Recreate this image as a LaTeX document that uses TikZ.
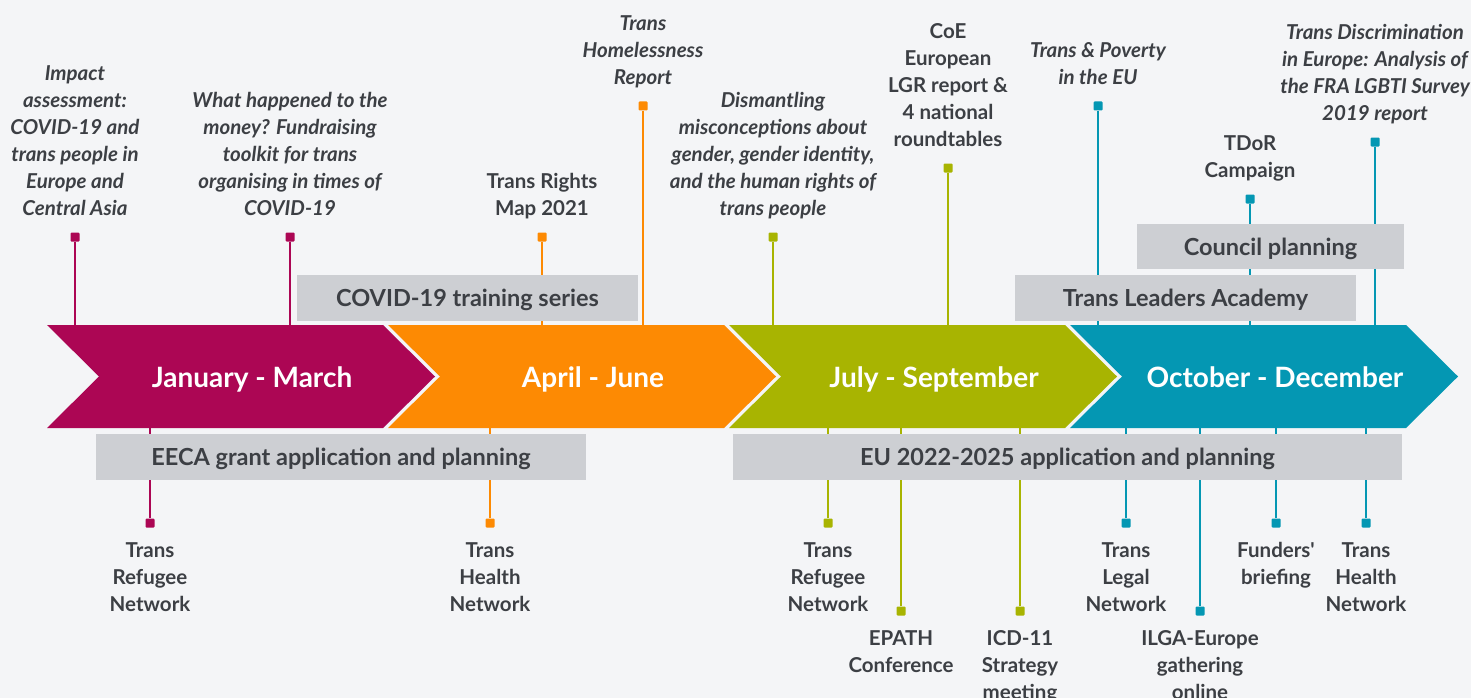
\documentclass[tikz,border=0pt]{standalone}
\usepackage{fontspec}
\setmainfont{Lato}
\usetikzlibrary{positioning}

\definecolor{bgc}{HTML}{F4F5F7}
\definecolor{qone}{HTML}{AC0654}
\definecolor{qtwo}{HTML}{FD8A03}
\definecolor{qthree}{HTML}{A8B401}
\definecolor{qfour}{HTML}{0497B3}
\definecolor{barc}{HTML}{CDCFD3}
\definecolor{txt}{HTML}{3C3F44}

\begin{document}
\begin{tikzpicture}[x=1pt,y=-1pt,
        ev/.style={font=\fontsize{20.5}{27}\selectfont\bfseries, text=txt, align=center, inner sep=0pt,
                execute at begin node=\strut, execute at end node=\strut},
        evi/.style={ev, font=\fontsize{20.5}{27}\selectfont\bfseries\itshape},
        endsq/.style={fill=#1, minimum size=9pt, inner sep=0pt, rounded corners=1pt},
        stem/.style={line width=2.5pt},
        bar/.style={fill=barc, minimum height=46pt, inner sep=0pt, text=txt,
                font=\fontsize{23.5}{28}\selectfont\bfseries, text height=17pt, text depth=0pt},
        qtext/.style={font=\fontsize{28}{33}\selectfont\bfseries, text=white, text height=20pt, text depth=0pt}]

        \fill[bgc] (0,0) rectangle (1471,698);
        \useasboundingbox (0,0) rectangle (1471,698);
        \coordinate (axtop) at (0,325);
        \coordinate (axbot) at (0,428);

        % markers above the arrows
        \node[endsq=qone] (m1) at (75,237) {};
        \node[endsq=qone] (m2) at (290,237) {};
        \node[endsq=qtwo] (m3) at (542,237) {};
        \node[endsq=qtwo] (m4) at (643,106) {};
        \node[endsq=qthree] (m5) at (773,237) {};
        \node[endsq=qthree] (m6) at (948,168) {};
        \node[endsq=qfour] (m7) at (1098,106) {};
        \node[endsq=qfour] (m8) at (1250,199) {};
        \node[endsq=qfour] (m9) at (1375,142) {};

        \draw[stem,qone] (m1) -- (m1 |- axtop);
        \draw[stem,qone] (m2) -- (m2 |- axtop);
        \draw[stem,qtwo] (m3) -- (m3 |- axtop);
        \draw[stem,qtwo] (m4) -- (m4 |- axtop);
        \draw[stem,qthree] (m5) -- (m5 |- axtop);
        \draw[stem,qthree] (m6) -- (m6 |- axtop);
        \draw[stem,qfour] (m7) -- (m7 |- axtop);
        \draw[stem,qfour] (m8) -- (m8 |- axtop);
        \draw[stem,qfour] (m9) -- (m9 |- axtop);

        % markers below the arrows
        \node[endsq=qone] (m10) at (150,523) {};
        \node[endsq=qtwo] (m11) at (490,523) {};
        \node[endsq=qthree] (m12) at (828,523) {};
        \node[endsq=qthree] (m13) at (901,611) {};
        \node[endsq=qthree] (m14) at (1020,611) {};
        \node[endsq=qfour] (m15) at (1126,523) {};
        \node[endsq=qfour] (m16) at (1200,611) {};
        \node[endsq=qfour] (m17) at (1276,523) {};
        \node[endsq=qfour] (m18) at (1366,523) {};

        \draw[stem,qone] (m10) -- (m10 |- axbot);
        \draw[stem,qtwo] (m11) -- (m11 |- axbot);
        \draw[stem,qthree] (m12) -- (m12 |- axbot);
        \draw[stem,qthree] (m13) -- (m13 |- axbot);
        \draw[stem,qthree] (m14) -- (m14 |- axbot);
        \draw[stem,qfour] (m15) -- (m15 |- axbot);
        \draw[stem,qfour] (m16) -- (m16 |- axbot);
        \draw[stem,qfour] (m17) -- (m17 |- axbot);
        \draw[stem,qfour] (m18) -- (m18 |- axbot);

        % quarters
        \fill[qone] (47,325) -- (383,325) -- (435,376.5) -- (383,428) -- (47,428) -- (99,376.5) -- cycle;
        \fill[qtwo] (388,325) -- (724,325) -- (776,376.5) -- (724,428) -- (388,428) -- (440,376.5) -- cycle;
        \fill[qthree] (729,325) -- (1065,325) -- (1117,376.5) -- (1065,428) -- (729,428) -- (781,376.5) -- cycle;
        \fill[qfour] (1070,325) -- (1406,325) -- (1458,376.5) -- (1406,428) -- (1070,428) -- (1122,376.5) -- cycle;

        \node[qtext] (jan) at (252,377) {January - March};
        \node[qtext] (apr) at (593,377) {April - June};
        \node[qtext] (jul) at (934,377) {July - September};
        \node[qtext] (oct) at (1275,377) {October - December};

        % running activities
        \node[bar, minimum width=341pt] (covid) at (467.5,297.5) {COVID-19 training series};
        \node[bar, minimum width=267pt, minimum height=45pt] (council) at (1270.5,246.5) {Council planning};
        \node[bar, minimum width=341pt] (tla) at (1185.5,297.5) {Trans Leaders Academy};
        \node[bar, minimum width=490pt] (eeca) at (341,457) {EECA grant application and planning};
        \node[bar, minimum width=669pt] (eu) at (1067.5,457) {EU 2022-2025 application and planning};

        % events
        \node[evi, above=8.5pt of m1] (l1) {Impact\\assessment:\\COVID-19 and\\trans people in\\Europe and\\Central Asia};
        \node[evi, above=8.5pt of m2] (l2) {What happened to the\\money? Fundraising\\toolkit for trans\\organising in times of\\COVID-19};
        \node[ev, above=8.5pt of m3] (l3) {Trans Rights\\Map 2021};
        \node[evi, above=8.5pt of m4] (l4) {Trans\\Homelessness\\Report};
        \node[evi, above=8.5pt of m5] (l5) {Dismantling\\misconceptions about\\gender, gender identity,\\and the human rights of\\trans people};
        \node[ev, above=8.5pt of m6] (l6) {CoE\\European\\LGR report \&\\4 national\\roundtables};
        \node[evi, above=8.5pt of m7] (l7) {Trans \& Poverty\\in the EU};
        \node[ev, above=8.5pt of m8] (l8) {TDoR\\Campaign};
        \node[evi, above=8.5pt of m9] (l9) {Trans Discrimination\\in Europe: Analysis of\\the FRA LGBTI Survey\\2019 report};

        \node[ev, below=14.5pt of m10] (l10) {Trans\\Refugee\\Network};
        \node[ev, below=14.5pt of m11] (l11) {Trans\\Health\\Network};
        \node[ev, below=14.5pt of m12] (l12) {Trans\\Refugee\\Network};
        \node[ev, below=14.5pt of m13] (l13) {EPATH\\Conference};
        \node[ev, below=14.5pt of m14] (l14) {ICD-11\\Strategy\\meeting};
        \node[ev, below=14.5pt of m15] (l15) {Trans\\Legal\\Network};
        \node[ev, below=14.5pt of m16] (l16) {ILGA-Europe\\gathering\\online};
        \node[ev, below=14.5pt of m17] (l17) {Funders\textquotesingle\\briefing};
        \node[ev, below=14.5pt of m18] (l18) {Trans\\Health\\Network};
\end{tikzpicture}
\end{document}
